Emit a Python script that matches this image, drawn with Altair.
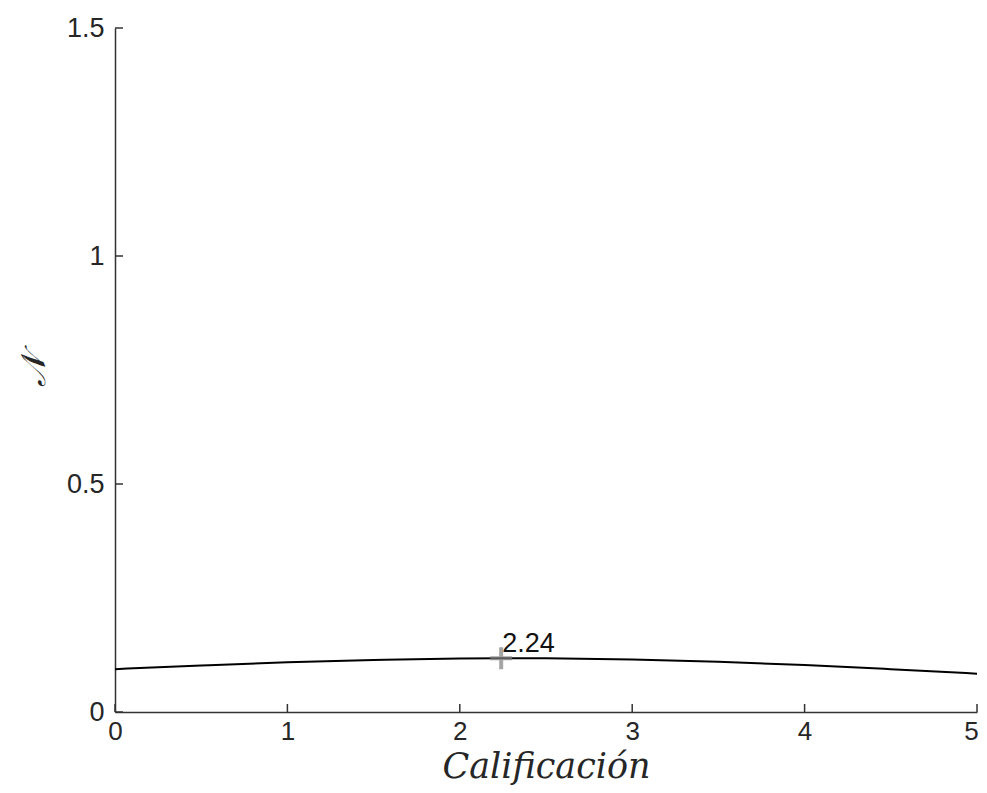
import altair as alt
import pandas as pd

# values
xs = [0, 0.5, 1, 1.5, 2, 2.24, 2.5, 3, 3.5, 4, 4.5, 5]
ys = [0.094, 0.102, 0.109, 0.114, 0.1175, 0.118, 0.1177, 0.115, 0.110, 0.103, 0.094, 0.084]
peak_x = [2.24]
peak_y = [0.118]
peak_label = ["2.24"]
x_ticks = [0, 1, 2, 3, 4, 5]
y_ticks = [0, 0.5, 1, 1.5]

W, H = 862, 684
curve = pd.DataFrame({"x": xs, "y": ys})
peak = pd.DataFrame({"x": peak_x, "y": peak_y, "t": peak_label})
xt = pd.DataFrame({"v": x_ticks})
yt = pd.DataFrame({"v": y_ticks})

xscale = alt.Scale(domain=[0, 5], nice=False, zero=False)
yscale = alt.Scale(domain=[0, 1.5], nice=False, zero=False)

xaxis = alt.Axis(values=x_ticks, ticks=False, grid=False, labelPadding=6, labelFlush=False,
                 format="~g",
                 labelOffset={"condition": {"test": "datum.value == 5", "value": -6}, "value": 0},
                 labelFont="Liberation Sans", labelFontSize=26, labelColor="#262626",
                 domainColor="#333", domainWidth=1.5,
                 title="Calificación", titleFont="DejaVu Serif", titleFontStyle="italic",
                 titleFontWeight="normal", titleFontSize=35, titleColor="#262626", titlePadding=5)
yaxis = alt.Axis(values=y_ticks, ticks=False, grid=False, labelPadding=11, labelFlush=False,
                 format="~g",
                 labelFont="Liberation Sans", labelFontSize=27, labelColor="#262626",
                 domainColor="#333", domainWidth=1.5,
                 title="𝒩", titleFont="DejaVu Serif", titleFontStyle="italic",
                 titleFontWeight="normal", titleFontSize=34, titleColor="#262626", titlePadding=15)

line = alt.Chart(curve).mark_line(color="black", strokeWidth=2, interpolate="monotone").encode(
    x=alt.X("x:Q", scale=xscale, axis=xaxis),
    y=alt.Y("y:Q", scale=yscale, axis=yaxis),
)

xtick_rules = alt.Chart(xt).mark_rule(color="#333", strokeWidth=1.5).encode(
    x=alt.X("v:Q", scale=xscale), y=alt.value(H), y2=alt.value(H - 8))
ytick_rules = alt.Chart(yt).mark_rule(color="#333", strokeWidth=1.5).encode(
    y=alt.Y("v:Q", scale=yscale), x=alt.value(0), x2=alt.value(8))

marker = alt.Chart(peak).mark_point(
    shape="M-1,0L1,0M0,-1L0,1", color="#808080", size=480, strokeWidth=4).encode(
    x=alt.X("x:Q", scale=xscale), y=alt.Y("y:Q", scale=yscale))

label = alt.Chart(peak).mark_text(align="left", baseline="alphabetic", dx=1, dy=-6,
                                  font="Liberation Sans", fontSize=27, color="#111").encode(
    x=alt.X("x:Q", scale=xscale), y=alt.Y("y:Q", scale=yscale), text="t:N")

chart = alt.layer(line, xtick_rules, ytick_rules, marker, label).properties(
    width=W, height=H,
    background="white",
    autosize=alt.AutoSizeParams(type="none"),
    padding={"left": 107, "top": 20, "right": 2, "bottom": 77},
).configure_view(strokeWidth=0, stroke=None)

chart.save("out.html", embed_options={"renderer": "svg", "actions": False})
